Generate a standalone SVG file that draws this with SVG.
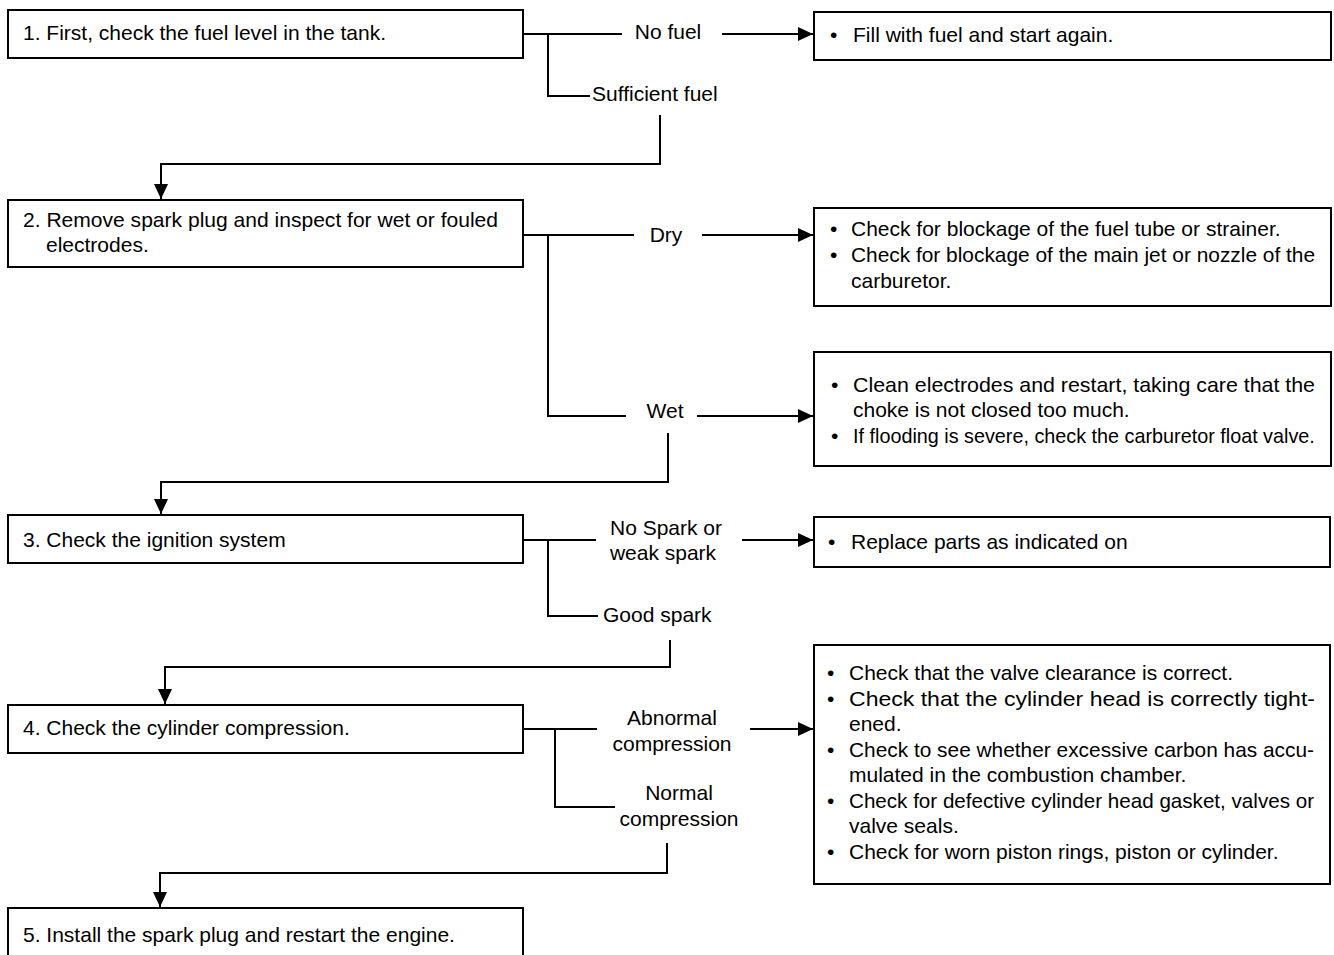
<svg xmlns="http://www.w3.org/2000/svg" width="1334" height="955" viewBox="0 0 1334 955">
<style>
.box{fill:#fff;stroke:#000;stroke-width:2}
.t{font-family:"Liberation Sans",Arial,sans-serif;font-size:21px;fill:#000}
.m{text-anchor:middle}
.c{fill:none;stroke:#000;stroke-width:2}
</style>
<defs>
<marker id="ah" viewBox="0 0 15 14" refX="15" refY="7" markerWidth="15" markerHeight="14" markerUnits="userSpaceOnUse" orient="auto"><path d="M0,0 L15,7 L0,14 z" fill="#000"/></marker>
</defs>
<rect width="1334" height="955" fill="#fff"/>
<g id="connectors">
<path class="c" d="M523,34 H622"/>
<path class="c" d="M722,34 H813" marker-end="url(#ah)"/>
<path class="c" d="M548,34 V96 H590"/>
<path class="c" d="M660,115 V164 H161 V199" marker-end="url(#ah)"/>
<path class="c" d="M523,235 H634"/>
<path class="c" d="M702,235 H813" marker-end="url(#ah)"/>
<path class="c" d="M548,235 V416 H626"/>
<path class="c" d="M697,416 H813" marker-end="url(#ah)"/>
<path class="c" d="M668,433 V482 H161 V514" marker-end="url(#ah)"/>
<path class="c" d="M523,540 H596"/>
<path class="c" d="M742,540 H813" marker-end="url(#ah)"/>
<path class="c" d="M548,540 V616 H598"/>
<path class="c" d="M670,640 V667 H165 V704" marker-end="url(#ah)"/>
<path class="c" d="M523,729 H597"/>
<path class="c" d="M750,729 H813" marker-end="url(#ah)"/>
<path class="c" d="M555,729 V807 H615"/>
<path class="c" d="M667,843 V873 H160 V907" marker-end="url(#ah)"/>
</g>
<g id="labels">
<text class="t m" x="668" y="39">No fuel</text>
<text class="t" x="592" y="101">Sufficient fuel</text>
<text class="t m" x="666" y="242">Dry</text>
<text class="t m" x="665" y="418">Wet</text>
<text class="t m" x="666" y="535">No Spark or</text>
<text class="t m" x="663" y="560">weak spark</text>
<text class="t" x="603" y="622">Good spark</text>
<text class="t m" x="672" y="725">Abnormal</text>
<text class="t m" x="672" y="751">compression</text>
<text class="t m" x="679" y="800">Normal</text>
<text class="t m" x="679" y="826">compression</text>
</g>
<g id="step1">
<rect class="box" x="8" y="10" width="515" height="48"/>
<text class="t" x="23" y="40">1. First, check the fuel level in the tank.</text>
</g>
<g id="action1">
<rect class="box" x="814" y="12" width="517" height="48"/>
<text class="t" x="830" y="42">•</text>
<text class="t" x="853" y="42">Fill with fuel and start again.</text>
</g>
<g id="step2">
<rect class="box" x="8" y="200" width="515" height="67"/>
<text class="t" x="23" y="227" textLength="475" lengthAdjust="spacingAndGlyphs">2. Remove spark plug and inspect for wet or fouled</text>
<text class="t" x="46" y="252">electrodes.</text>
</g>
<g id="action2">
<rect class="box" x="814" y="208" width="517" height="98"/>
<text class="t" x="830" y="236">•</text>
<text class="t" x="851" y="236">Check for blockage of the fuel tube or strainer.</text>
<text class="t" x="830" y="262">•</text>
<text class="t" x="851" y="262" textLength="464" lengthAdjust="spacingAndGlyphs">Check for blockage of the main jet or nozzle of the</text>
<text class="t" x="851" y="288">carburetor.</text>
</g>
<g id="action3">
<rect class="box" x="814" y="352" width="517" height="114"/>
<text class="t" x="831" y="392">•</text>
<text class="t" x="853" y="392" textLength="462" lengthAdjust="spacingAndGlyphs">Clean electrodes and restart, taking care that the</text>
<text class="t" x="853" y="417">choke is not closed too much.</text>
<text class="t" x="831" y="443">•</text>
<text class="t" x="853" y="443" style="font-size:19.8px">If flooding is severe, check the carburetor float valve.</text>
</g>
<g id="step3">
<rect class="box" x="8" y="515" width="515" height="48"/>
<text class="t" x="23" y="547">3. Check the ignition system</text>
</g>
<g id="action4">
<rect class="box" x="814" y="517" width="516" height="50"/>
<text class="t" x="828" y="549">•</text>
<text class="t" x="851" y="549">Replace parts as indicated on</text>
</g>
<g id="step4">
<rect class="box" x="8" y="705" width="515" height="48"/>
<text class="t" x="23" y="735">4. Check the cylinder compression.</text>
</g>
<g id="action5">
<rect class="box" x="814" y="645" width="516" height="239"/>
<text class="t" x="827" y="680">•</text>
<text class="t" x="849" y="680">Check that the valve clearance is correct.</text>
<text class="t" x="827" y="706">•</text>
<text class="t" x="849" y="706" textLength="466" lengthAdjust="spacingAndGlyphs">Check that the cylinder head is correctly tight-</text>
<text class="t" x="849" y="731">ened.</text>
<text class="t" x="827" y="757">•</text>
<text class="t" x="849" y="757" textLength="465" lengthAdjust="spacingAndGlyphs">Check to see whether excessive carbon has accu-</text>
<text class="t" x="849" y="782">mulated in the combustion chamber.</text>
<text class="t" x="827" y="808">•</text>
<text class="t" x="849" y="808" textLength="465" lengthAdjust="spacingAndGlyphs">Check for defective cylinder head gasket, valves or</text>
<text class="t" x="849" y="833">valve seals.</text>
<text class="t" x="827" y="859">•</text>
<text class="t" x="849" y="859">Check for worn piston rings, piston or cylinder.</text>
</g>
<g id="step5">
<rect class="box" x="8" y="908" width="515" height="60"/>
<text class="t" x="23" y="942">5. Install the spark plug and restart the engine.</text>
</g>
</svg>
